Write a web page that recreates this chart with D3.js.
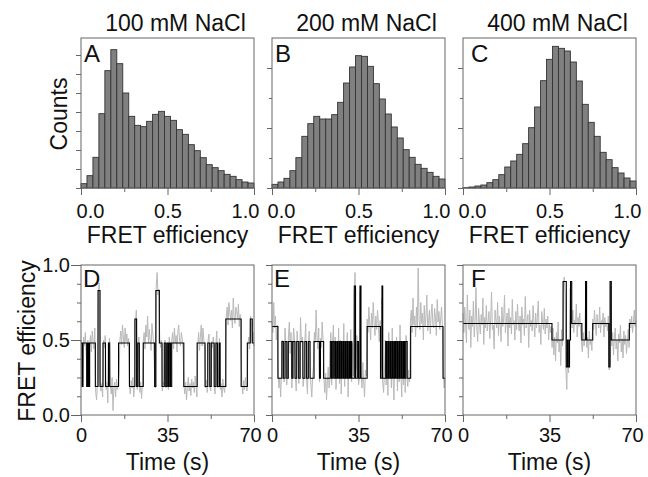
<!DOCTYPE html>
<html>
<head>
<meta charset="utf-8">
<title>FRET histograms and traces</title>
<script src="https://d3js.org/d3.v7.min.js"></script>
<style>
  body { margin: 0; background: #fff; }
  text { font-family: "Liberation Sans", Arial, sans-serif; fill: #111; }
</style>
</head>
<body>
<svg id="fig" width="648" height="477"></svg>
<script>
// ---- data ----
const saltLabels = ["100 mM NaCl", "200 mM NaCl", "400 mM NaCl"];
const histLetters = ["A", "B", "C"];
const traceLetters = ["D", "E", "F"];

// histogram counts (arbitrary units), bins spread evenly over 0..1
const countsA = [13, 37, 92, 223, 352, 415, 373, 285, 215, 188, 184, 200, 221, 230, 215,
  203, 175, 161, 130, 112, 91, 70, 61, 52, 41, 35, 25, 18, 15];
const countsB = [11, 18, 29, 52, 91, 155, 193, 215, 207, 207, 220, 257, 315, 363, 397,
  395, 365, 313, 267, 222, 183, 150, 115, 92, 71, 59, 47, 35, 27];
const countsC = [1, 3, 6, 9, 16, 25, 40, 63, 81, 101, 133, 181, 243, 322, 386,
  425, 419, 411, 378, 321, 251, 197, 155, 107, 85, 61, 45, 30, 21];

const efficiencyTicks = [0, 0.25, 0.5, 0.75, 1];
const efficiencyLabels = [0, 0.5, 1];
const countTicksA = [0, 57, 114, 171, 228, 285, 342, 399];
const countTicksBC = [0, 90, 180, 270, 360];
const timeTicks = [0, 17.5, 35, 52.5, 70];
const timeLabels = [0, 35, 70];
const fretTicks = [0, 0.125, 0.25, 0.375, 0.5, 0.625, 0.75, 0.875, 1];
const fretLabels = [0, 0.5, 1];

// raw FRET traces (gray), equally spaced over 0..70 s
const grayD = [.50,.44,.22,.52,.46,.55,.41,.24,.50,.20,
  .47,.53,.42,.56,.49,.44,.58,.15,.10,.22,
  .80,.88,.25,.16,.21,.12,.50,.45,.53,.17,
  .22,.08,.46,.51,.20,.14,.25,.03,.18,.22,
  .12,.24,.17,.21,.28,.50,.56,.47,.60,.52,
  .45,.58,.49,.54,.46,.51,.20,.14,.23,.18,
  .25,.12,.21,.62,.70,.17,.47,.52,.15,.22,
  .11,.20,.49,.55,.44,.60,.52,.66,.48,.57,
  .50,.43,.61,.54,.47,.30,.18,.86,.95,.80,
  .84,.51,.45,.50,.16,.22,.20,.50,.18,.23,
  .48,.17,.52,.45,.20,.50,.55,.44,.58,.48,
  .53,.42,.56,.60,.49,.46,.55,.51,.44,.20,
  .14,.22,.10,.19,.25,.16,.21,.13,.24,.18,
  .22,.15,.26,.19,.12,.47,.55,.43,.52,.60,
  .46,.58,.50,.44,.18,.23,.15,.50,.54,.19,
  .16,.49,.45,.52,.20,.14,.48,.56,.18,.23,
  .51,.17,.21,.12,.24,.18,.15,.22,.66,.72,
  .60,.75,.68,.63,.70,.58,.78,.66,.61,.72,
  .69,.64,.74,.59,.67,.40,.20,.14,.23,.17,
  .25,.19,.16,.47,.52,.44,.66,.62,.49,.55,
  .46];
const grayE = [.62,.55,.75,.58,.66,.50,.60,
  .30,.18,.25,.12,.28, .50,.44, .22, .58,.47, .20,.31, .52,.62,.41,.55, .18,
  .45,.58,.50, .27,.16, .56,.43, .21, .36,.65,.48,.52, .19,.28, .50,.61, .24,.14,
  .47,.56, .30,.20,.12,.26,.33, .55,.48,.70,.52,.44,.58, .22, .51,.45,.62,.50,
  .25,.15,.28,.10,.22,.32,.18,.24, .55, .20, .48,.60, .26,
  .52,.17,.45,.29,.58,.21,.50,.14,.43,.33,.61,.19,.47,.25,.55,.12,.40,.30,.57,.22,.48,
  .26, .80, .95, .30, .53,.46, .20,.25, .82, .28, .18,.35,.22,.12,.30,.26,
  .64,.55,.72,.60,.50,.68,.58,.75,.62,.53,.66,.57,.70,.61,.49,.63,
  .30, .78, .22,.15,.28,
  .50,.20,.45,.13,.55,.27,.40,.18,.58,.24,.10,.47,.31,.52,.16,.44,.22,.60,.28,.12,.49,.20,.41,.15,.53,.25,
  .19,.30,.22,
  .62,.70,.55,.78,.60,.66,.52,.72,.58,.98,.64,.57,.75,.61,.68,.50,.73,.59,.66,.80,
  .56,.63,.70,.54,.67,.74,.60,.58,.71,.65,.53,.77,.62,.69,.57,.64,.72,.60,
  .30,.18,.25];
const grayF = [.68,.55,.72,.60,.48,.80,.62,.57,.70,.45,
  .66,.59,.76,.52,.63,.85,.58,.49,.71,.62,
  .54,.67,.60,.78,.47,.65,.58,.73,.56,.62,
  .69,.51,.64,.82,.57,.60,.44,.70,.63,.58,
  .75,.53,.66,.61,.49,.72,.59,.64,.80,.55,
  .62,.68,.46,.71,.58,.65,.54,.77,.60,.63,
  .50,.69,.57,.74,.61,.56,.66,.48,.72,.60,
  .64,.53,.79,.58,.62,.67,.45,.70,.59,.63,
  .56,.73,.61,.52,.68,.58,.65,.76,.55,.60,
  .47,.69,.62,.57,.71,.54,.64,.58,.66,.50,
  .61,.55,.59,
  .45,.58,.40,.52,.36,.55,.48,.62,.42,.50,.33,.57,.46,
  .85,.92,.80, .30,.17, .48, .28, .52, .84,
  .66,.58,.70,.55,.63,.60,.74,.52,.65,.59,.68,.56,
  .48,.42,.55,.46, .53, .88, .45,.52,.38,.56,.47,.50,.43,
  .64,.57,.70,.60,.53,.67,.62,.58,.72,.55,.63,.60,.68,.52,.65,.59,.61,.56,.66,
  .30,.35, .86,
  .46,.55,.40,.52,.58,.44,.50,.36,.54,.48,.60,.42,.51,.38,.56,.47,.53,.41,.49,.57,.45,
  .64,.58,.66,.55,.62,.70,.59,.63];

// fitted state trajectories (black): time a state starts (s) and its FRET level
const stepTimesD = [0, 0.4, 0.8, 2.3, 2.7, 3.1, 3.5, 5.8, 6.9, 7.7, 8.9, 9.9, 11.1, 11.6,
  15.2, 19.6, 21.8, 22.5, 23.0, 23.6, 25.2, 29.8, 30.3, 31.7, 32.8, 33.7, 34.3, 34.8,
  35.3, 35.7, 36.2, 36.7, 41.6, 47.0, 50.2, 51.3, 52.1, 52.7, 53.9, 54.6, 55.2, 55.9,
  56.3, 58.6, 64.8, 67.3, 68.5, 69.3];
const stepLevelsD = [.48, .19, .48, .19, .48, .19, .48, .19, .83, .19, .48, .19, .48, .19,
  .48, .19, .64, .19, .48, .19, .48, .19, .83, .48, .19, .48, .19, .48,
  .19, .48, .19, .48, .19, .48, .19, .48, .19, .48, .19, .48, .19, .48,
  .19, .64, .19, .48, .64, .48];
const stepTimesE = [0, 2.4, 4.0, 4.6, 5.3, 6.0, 6.6, 8.0, 8.5, 9.3, 10.0, 10.8, 11.4, 12.5,
  13.3, 14.0, 14.7, 15.4, 17.0, 19.2, 19.6, 20.9, 23.6, 24.1, 24.6, 25.1, 25.6, 26.0,
  26.5, 26.8, 27.3, 27.6, 28.1, 28.4, 28.9, 29.2, 29.7, 30.0, 30.5, 30.8, 31.3, 31.6,
  32.0, 32.3, 33.3, 33.8, 34.5, 35.0, 35.6, 36.0, 38.5, 43.9, 44.5, 44.8,
  46.0, 46.4, 46.9, 47.3, 47.8, 48.2, 48.7, 49.1, 49.6, 50.0, 50.5, 50.9, 51.4, 51.8,
  52.3, 52.7, 53.2, 53.6, 54.1, 54.7, 56.1, 69.2];
const stepLevelsE = [.59, .245, .49, .245, .49, .245, .49, .245, .49, .245, .49, .245, .49, .245,
  .49, .245, .49, .245, .49, .245, .49, .245, .49, .245, .49, .245, .49, .245,
  .49, .245, .49, .245, .49, .245, .49, .245, .49, .245, .49, .245, .49, .245,
  .49, .245, .86, .245, .49, .245, .86, .245, .59, .245, .86, .245,
  .49, .245, .49, .245, .49, .245, .49, .245, .49, .245, .49, .245, .49, .245,
  .49, .245, .49, .245, .49, .245, .59, .245];
const stepTimesF = [0, 36.0, 40.5, 41.8, 42.3, 42.6, 43.1, 43.5, 44.0, 48.1, 49.6, 50.0,
  52.5, 59.0, 59.5, 60.0, 67.3];
const stepLevelsF = [.61, .50, .89, .32, .50, .32, .50, .89, .61, .50, .89, .50,
  .61, .32, .89, .50, .61];

// ---- layout ----
const svg = d3.select("#fig");
const panelLefts = [81, 272, 463];
const panelWidth = 173;
const histTop = 38, histBottom = 188;
const traceTop = 265, traceBottom = 415;
const frameColor = "#666";
const f1 = d3.format(".1f");

function styleAxis(g, size) {
  g.attr("font-family", null).attr("font-size", null);
  g.selectAll("path.domain").remove();
  g.selectAll(".tick line").attr("stroke", frameColor);
  g.selectAll(".tick text").style("font-size", size + "px").attr("fill", "#111");
}

// ---- histograms ----
const histCounts = [countsA, countsB, countsC];
histCounts.forEach((counts, p) => {
  const left = panelLefts[p];
  const x = d3.scaleLinear().domain([0, 1]).range([left, left + panelWidth]);
  const y = d3.scaleLinear().domain([0, 450]).range([histBottom, histTop]);
  const n = counts.length;
  const g = svg.append("g");

  g.selectAll("rect.bar")
    .data(counts)
    .join("rect")
    .attr("class", "bar")
    .attr("x", (d, i) => x(i / n))
    .attr("width", (d, i) => x((i + 1) / n) - x(i / n))
    .attr("y", d => y(d))
    .attr("height", d => y(0) - y(d))
    .attr("fill", "#808080")
    .attr("stroke", "#333")
    .attr("stroke-width", 0.9);

  // frame
  g.append("rect")
    .attr("x", left).attr("y", histTop)
    .attr("width", panelWidth).attr("height", histBottom - histTop)
    .attr("fill", "none").attr("stroke", frameColor);

  // x axis
  const xa = g.append("g")
    .attr("transform", `translate(0,${histBottom})`)
    .call(d3.axisBottom(x).tickValues(efficiencyTicks).tickSize(7).tickPadding(9)
      .tickFormat(d => efficiencyLabels.includes(d) ? f1(d) : ""));
  styleAxis(xa, 20);
  xa.selectAll(".tick").filter(d => !efficiencyLabels.includes(d)).select("line").attr("y2", 4);
  xa.selectAll(".tick text").attr("dx", d => d === 0 ? 9 : d === 1 ? -9 : 0);

  // y axis (no labels)
  const ticks = p === 0 ? countTicksA : countTicksBC;
  const ya = g.append("g")
    .attr("transform", `translate(${left},0)`)
    .call(d3.axisLeft(y).tickValues(ticks).tickSize(5).tickFormat(""));
  styleAxis(ya, 10);
  if (p > 0) ya.selectAll(".tick").filter((d, i) => i % 2 === 1).select("line").attr("x2", -3);

  // panel letter, title, axis title
  g.append("text")
    .attr("x", left + (p === 2 ? 8 : 3)).attr("y", 62)
    .style("font-size", "24px").text(histLetters[p]);
  g.append("text")
    .attr("x", left + panelWidth / 2 + 8).attr("y", 31)
    .attr("text-anchor", "middle").style("font-size", "23px")
    .text(saltLabels[p]);
  g.append("text")
    .attr("x", left + panelWidth / 2).attr("y", 243)
    .attr("text-anchor", "middle").style("font-size", "23px")
    .text("FRET efficiency");
});

svg.append("text")
  .attr("transform", "translate(67,114) rotate(-90)")
  .attr("text-anchor", "middle").style("font-size", "23px")
  .text("Counts");

// ---- traces ----
const grays = [grayD, grayE, grayF];
const stepTimes = [stepTimesD, stepTimesE, stepTimesF];
const stepLevels = [stepLevelsD, stepLevelsE, stepLevelsF];

grays.forEach((gray, p) => {
  const left = panelLefts[p];
  const x = d3.scaleLinear().domain([0, 70]).range([left, left + panelWidth]);
  const y = d3.scaleLinear().domain([0, 1]).range([traceBottom, traceTop]);
  const dt = 70 / (gray.length - 1);
  const g = svg.append("g");

  g.append("path")
    .datum(gray)
    .attr("fill", "none")
    .attr("stroke", "#b9b9b9")
    .attr("stroke-width", 1)
    .attr("d", d3.line().x((d, i) => x(i * dt)).y(d => y(d)));

  const steps = stepTimes[p].map((t, i) => [t, stepLevels[p][i]]);
  steps.push([70, stepLevels[p][stepLevels[p].length - 1]]);
  g.append("path")
    .datum(steps)
    .attr("fill", "none")
    .attr("stroke", "#000")
    .attr("stroke-width", 1.1)
    .attr("d", d3.line().curve(d3.curveStepAfter).x(d => x(d[0])).y(d => y(d[1])));

  g.append("rect")
    .attr("x", left).attr("y", traceTop)
    .attr("width", panelWidth).attr("height", traceBottom - traceTop)
    .attr("fill", "none").attr("stroke", frameColor);

  const xa = g.append("g")
    .attr("transform", `translate(0,${traceBottom})`)
    .call(d3.axisBottom(x).tickValues(timeTicks).tickSize(7).tickPadding(6)
      .tickFormat(d => timeLabels.includes(d) ? d : ""));
  styleAxis(xa, 20);
  xa.selectAll(".tick").filter(d => !timeLabels.includes(d)).select("line").attr("y2", 4);
  xa.selectAll(".tick text").attr("dx", d => d === 70 ? -4 : 0);

  const ya = g.append("g")
    .attr("transform", `translate(${left},0)`)
    .call(d3.axisLeft(y).tickValues(fretTicks).tickSize(p === 0 ? 10 : 6).tickPadding(1)
      .tickFormat(d => p === 0 && fretLabels.includes(d) ? f1(d) : ""));
  styleAxis(ya, 20);
  ya.selectAll(".tick").filter(d => !fretLabels.includes(d)).select("line").attr("x2", -4);

  g.append("text")
    .attr("x", left + (p === 2 ? 8 : 2)).attr("y", 287)
    .style("font-size", "24px").text(traceLetters[p]);
  g.append("text")
    .attr("x", left + panelWidth / 2).attr("y", 470)
    .attr("text-anchor", "middle").style("font-size", "23px")
    .text("Time (s)");
});

svg.append("text")
  .attr("transform", "translate(35,341) rotate(-90)")
  .attr("text-anchor", "middle").style("font-size", "23px")
  .text("FRET efficiency");
</script>
</body>
</html>
